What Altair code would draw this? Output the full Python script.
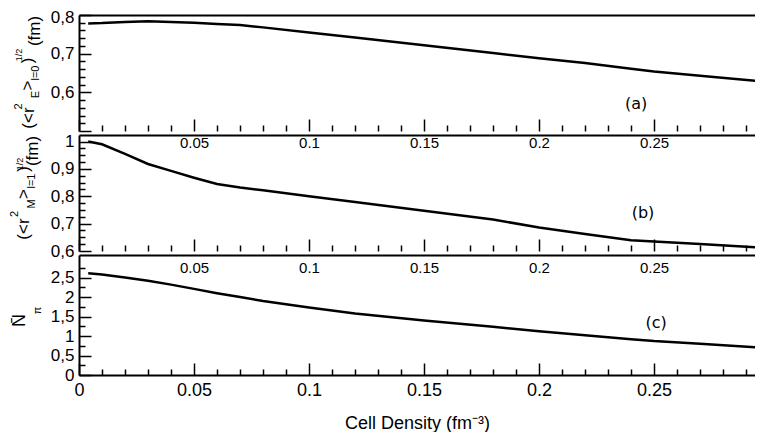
import altair as alt
import pandas as pd

# ---------------- data ----------------
density = [0.004, 0.01, 0.02, 0.03, 0.04, 0.05, 0.06, 0.07, 0.08, 0.10,
           0.12, 0.15, 0.18, 0.20, 0.22, 0.24, 0.25, 0.27, 0.298]
radius_e = [0.778, 0.779, 0.782, 0.784, 0.782, 0.780, 0.777, 0.774, 0.768, 0.755,
            0.742, 0.722, 0.702, 0.688, 0.676, 0.661, 0.654, 0.643, 0.628]
radius_m = [1.000, 0.990, 0.955, 0.918, 0.893, 0.868, 0.845, 0.832, 0.822, 0.800,
            0.779, 0.747, 0.715, 0.686, 0.662, 0.639, 0.635, 0.626, 0.612]
n_pion = [2.61, 2.58, 2.50, 2.42, 2.32, 2.21, 2.10, 2.00, 1.90, 1.73,
          1.58, 1.40, 1.24, 1.12, 1.02, 0.92, 0.87, 0.80, 0.70]

x_major = [0, 0.05, 0.1, 0.15, 0.2, 0.25]
x_minor = [0.01, 0.02, 0.03, 0.04, 0.06, 0.07, 0.08, 0.09, 0.11, 0.12, 0.13, 0.14,
           0.16, 0.17, 0.18, 0.19, 0.21, 0.22, 0.23, 0.24, 0.26, 0.27, 0.28, 0.29]
x_inner_labels = [0.05, 0.1, 0.15, 0.2, 0.25]
x_bottom_labels = [0, 0.05, 0.1, 0.15, 0.2, 0.25]

a_major = [0.5, 0.6, 0.7, 0.8]
a_minor = [0.52, 0.54, 0.56, 0.58, 0.62, 0.64, 0.66, 0.68, 0.72, 0.74, 0.76, 0.78]
a_labels = [0.6, 0.7, 0.8]
b_major = [0.6, 0.7, 0.8, 0.9, 1.0]
b_minor = [0.625, 0.65, 0.675, 0.725, 0.75, 0.775, 0.825, 0.85, 0.875,
           0.925, 0.95, 0.975]
b_labels = [0.6, 0.7, 0.8, 0.9, 1.0]
c_major = [0, 0.5, 1, 1.5, 2, 2.5]
c_minor = [0.25, 0.75, 1.25, 1.75, 2.25, 2.75]
c_labels = [0, 0.5, 1, 1.5, 2, 2.5]

FONT = "Liberation Sans"
W = 676
XDOM = [0, 0.2939]
YLABEL = "replace(format(datum.value, '.2~f'), '.', ',')"
DX = 1.4  # horizontal shift of the rotated y-title pieces


def tick_axis(orient, values, size, domain=False):
    return alt.Axis(orient=orient, values=values, labels=False, domain=domain,
                    domainColor="black", domainWidth=2, ticks=True,
                    tickSize={"expr": str(-size)}, tickColor="black",
                    tickWidth=1.5, grid=False, title=None)


def make_panel(values, ydom, height, y_major, y_minor, y_labels, pieces,
               tag, tag_x, tag_y, top_labels, bottom_labels, inner_pad, top_nudge):
    df = pd.DataFrame({"d": density, "v": values})
    xs = alt.Scale(domain=XDOM, nice=False, zero=False)
    ys = alt.Scale(domain=ydom, nice=False, zero=False)
    base = alt.Chart(df)

    line = base.mark_line(color="black", strokeWidth=2.5, clip=True).encode(
        x=alt.X("d:Q", scale=xs, axis=tick_axis("bottom", x_major, 12, domain=bottom_labels)),
        y=alt.Y("v:Q", scale=ys, axis=tick_axis("left", y_major, 12, domain=True)),
    )
    minor = base.mark_point(opacity=0, clip=True).encode(
        x=alt.X("d:Q", scale=xs, axis=tick_axis("bottom", x_minor, 6)),
        y=alt.Y("v:Q", scale=ys, axis=tick_axis("left", y_minor, 6)),
    )
    labels = base.mark_point(opacity=0, clip=True).encode(
        x=alt.X("d:Q", scale=xs, axis=alt.Axis(
            orient="top", values=x_inner_labels, labels=top_labels, ticks=False,
            tickSize=0, domain=True, domainColor="black", domainWidth=2,
            labelPadding=inner_pad, labelFontSize=15, labelFont=FONT, labelColor="black",
            labelFlush=False, format=".2~f", grid=False, title=None)),
        y=alt.Y("v:Q", scale=ys, axis=alt.Axis(
            orient="left", values=y_labels, ticks=False, tickSize=0, domain=False,
            labelExpr=YLABEL, labelPadding=5, labelFontSize=17, labelFont=FONT,
            labelColor="black", labelFlush=False, grid=False, title=None,
            labelOffset={"condition": {"test": f"datum.value >= {max(y_labels)}",
                                       "value": top_nudge}, "value": 0})),
    )
    layers = [line, minor, labels]
    if bottom_labels:
        layers.append(base.mark_point(opacity=0, clip=True).encode(
            x=alt.X("d:Q", scale=xs, axis=alt.Axis(
                orient="bottom", values=x_bottom_labels, ticks=False, tickSize=0,
                domain=False, labelPadding=6, labelFontSize=18, labelFont=FONT,
                labelColor="black", labelFlush=False, format=".2~f", grid=False,
                title="Cell Density (fm⁻³)", titleFont=FONT, titleFontSize=18,
                titleFontWeight="normal", titleColor="black", titlePadding=15)),
            y=alt.Y("v:Q", scale=ys, axis=None),
        ))
    tag_df = pd.DataFrame({"d": [tag_x], "v": [tag_y], "t": [tag]})
    layers.append(alt.Chart(tag_df).mark_text(
        font="DejaVu Sans", fontSize=16, color="black").encode(
        x=alt.X("d:Q", scale=xs, axis=None),
        y=alt.Y("v:Q", scale=ys, axis=None),
        text="t:N"))
    dummy = pd.DataFrame({"k": [0]})
    for txt, size, px, py in pieces:
        layers.append(alt.Chart(dummy).mark_text(
            font=FONT, fontSize=size, color="black", angle=270,
            align="center", baseline="middle").encode(
            x=alt.value(px + DX), y=alt.value(py), text=alt.value(txt)))
    return alt.layer(*layers).resolve_axis(x="independent", y="independent").properties(
        width=W, height=height)


pieces_a = [("(<r", 17, -51.5, 103), ("2", 11, -61.5, 91.5), ("E", 11, -44.5, 79.5),
            (">", 17, -52, 70.5), ("l=0", 11, -44.5, 58), (")", 17, -52, 45.5),
            ("1/2", 9, -61, 40), ("(fm)", 17, -45, 16)]
pieces_b = [("(<r", 17, -56.5, 94), ("2", 11, -65.5, 79), ("M", 11, -48.5, 69),
            (">", 17, -56.5, 59), ("l=1", 11, -48.5, 46), (")", 17, -56.5, 34),
            ("1/2", 9, -60.5, 29), ("(fm)", 17, -47, 16)]
pieces_c = [("N\u0304", 18, -60, 65.5), ("π", 11, -42.5, 55.5)]

panel_a = make_panel(radius_e, [0.5, 0.8], 116, a_major, a_minor, a_labels, pieces_a,
                     "(a)", 0.2422, 0.569, False, False, -12, 2)
panel_b = make_panel(radius_m, [0.6, 1.024], 116, b_major, b_minor, b_labels, pieces_b,
                     "(b)", 0.2452, 0.739, True, False, -15, 0)
panel_c = make_panel(n_pion, [0, 3.08], 120, c_major, c_minor, c_labels, pieces_c,
                     "(c)", 0.2509, 1.335, True, True, -20, 0)

chart = alt.vconcat(panel_a, panel_b, panel_c, spacing=4, bounds="flush").properties(
    padding={"left": 0, "top": 0, "right": 0, "bottom": 0},
    background="white",
).configure_view(stroke=None)

chart.save("out.html", embed_options={"renderer": "svg", "actions": False})
